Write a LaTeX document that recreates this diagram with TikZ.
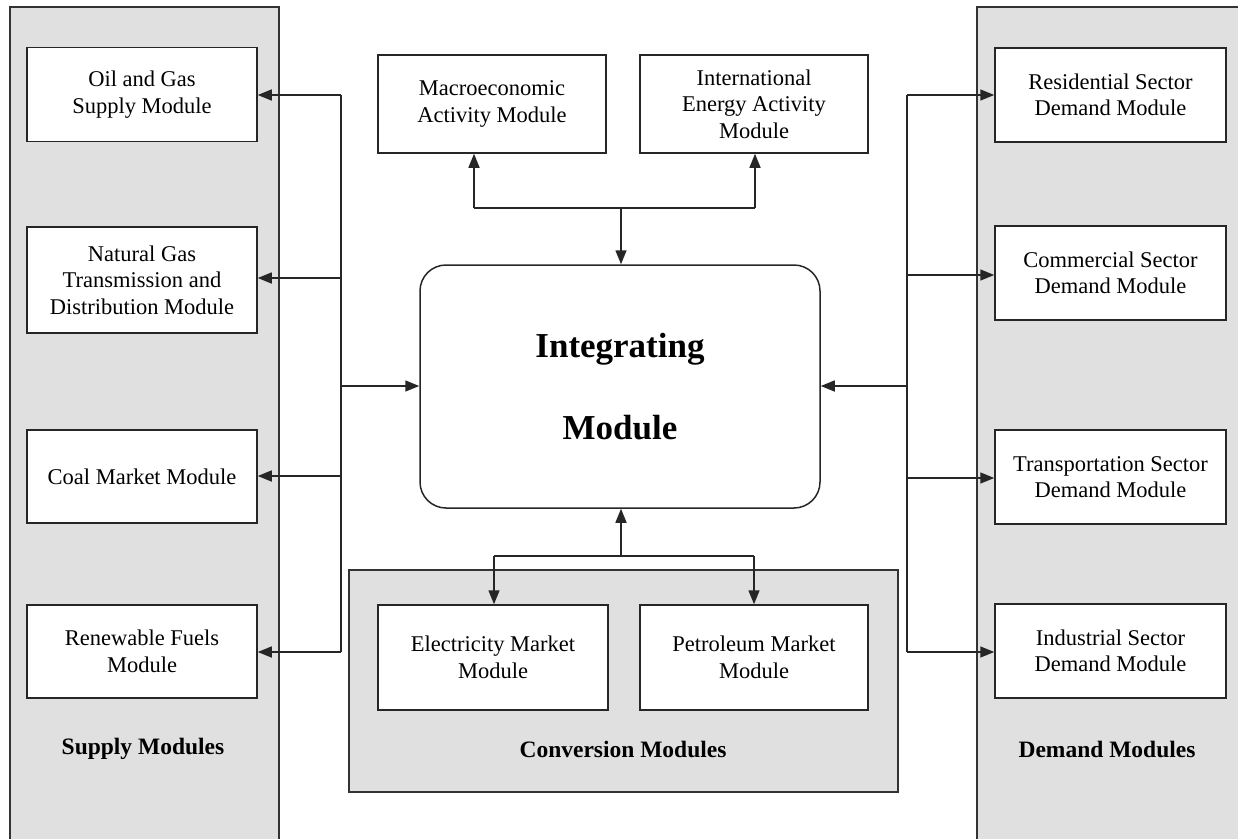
\documentclass[tikz,border=0pt]{standalone}
\usepackage{fontspec}
\setmainfont{Liberation Serif}
\usetikzlibrary{arrows.meta}
\begin{document}
\begin{tikzpicture}[x=1pt,y=-1pt,
  panel/.style={draw=black!80, fill=black!12, line width=1.5pt},
  mbox/.style={draw=black!85, fill=white, line width=1.5pt, inner sep=0pt, align=center,
    font=\fontsize{22.5}{26.5}\selectfont, minimum width=230pt},
  lbl/.style={font=\bfseries\fontsize{23.5}{27}\selectfont},
  conn/.style={draw=black!85, line width=1.5pt},
  arr/.style={conn, -{Triangle[length=14pt,width=11pt]}},
]
\useasboundingbox (0,0) rectangle (1238,838);
\clip (0,0) rectangle (1238,838);
% panels
\draw[panel] (10,7) rectangle (279,850);
\draw[panel] (977,7) rectangle (1250,850);
\draw[panel] (349,570) rectangle (898,792);
% supply boxes
\node[mbox, minimum height=94pt] (oil) at (142,94.5) {Oil and Gas\\Supply Module};
\node[mbox, minimum height=106pt] (ngas) at (142,280) {Natural Gas\\Transmission and\\Distribution Module};
\node[mbox, minimum height=93pt] (coal) at (142,476.5) {Coal Market Module};
\node[mbox, minimum height=93pt] (renew) at (142,651.5) {Renewable Fuels\\Module};
% demand boxes
\node[mbox, minimum width=231pt, minimum height=94pt] (res) at (1110.5,95) {Residential Sector\\Demand Module};
\node[mbox, minimum width=231pt, minimum height=94pt] (com) at (1110.5,273) {Commercial Sector\\Demand Module};
\node[mbox, minimum width=231pt, minimum height=94pt] (trans) at (1110.5,477) {Transportation Sector\\Demand Module};
\node[mbox, minimum width=231pt, minimum height=94pt] (ind) at (1110.5,651) {Industrial Sector\\Demand Module};
% top boxes
\node[mbox, minimum width=228pt, minimum height=98pt] (macro) at (492,104) {Macroeconomic\\Activity Module};
\node[mbox, minimum width=228pt, minimum height=98pt] (intl) at (754,104) {International\\Energy Activity\\Module};
% conversion boxes
\node[mbox, minimum width=230pt, minimum height=105pt] (elec) at (493,657.5) {Electricity Market\\Module};
\node[mbox, minimum width=228pt, minimum height=105pt] (petro) at (754,657.5) {Petroleum Market\\Module};
% integrating
\node[draw=black!85, fill=white, line width=1.5pt, rounded corners=26pt, minimum width=400pt,
  minimum height=243pt, align=center, font=\bfseries\fontsize{35}{82}\selectfont] (integ) at (620,386.5)
  {Integrating\\Module};
% labels
\node[lbl] (lsup) at (143,749) {Supply Modules};
\node[lbl] (lcon) at (623,749) {Conversion Modules};
\node[lbl] (ldem) at (1107,749) {Demand Modules};
% left bus
\coordinate (lb1) at (341,95);
\coordinate (lb2) at (341,278);
\coordinate (lb3) at (341,476);
\coordinate (lb4) at (341,652);
\coordinate (lbm) at (341,386);
\draw[conn] (lb1) -- (lb4);
\draw[arr] (lb1) -- (lb1 -| oil.east);
\draw[arr] (lb2) -- (lb2 -| ngas.east);
\draw[arr] (lb3) -- (lb3 -| coal.east);
\draw[arr] (lb4) -- (lb4 -| renew.east);
\draw[arr] (lbm) -- (lbm -| integ.west);
% right bus
\coordinate (rb1) at (907,95);
\coordinate (rb2) at (907,275);
\coordinate (rb3) at (907,478);
\coordinate (rb4) at (907,652);
\coordinate (rbm) at (907,386);
\draw[conn] (rb1) -- (rb4);
\draw[arr] (rb1) -- (rb1 -| res.west);
\draw[arr] (rb2) -- (rb2 -| com.west);
\draw[arr] (rb3) -- (rb3 -| trans.west);
\draw[arr] (rb4) -- (rb4 -| ind.west);
\draw[arr] (rbm) -- (rbm -| integ.east);
% top connectors
\coordinate (mt) at (474,208);
\coordinate (tb) at (621,208);
\coordinate (it) at (755,208);
\draw[conn] (mt) -- (it);
\draw[arr] (mt) -- (mt |- macro.south);
\draw[arr] (it) -- (it |- intl.south);
\draw[arr] (tb) -- (tb |- integ.north);
% bottom connectors
\coordinate (el) at (494,556);
\coordinate (cb) at (621,556);
\coordinate (pt) at (754,556);
\draw[conn] (el) -- (pt);
\draw[arr] (cb) -- (cb |- integ.south);
\draw[arr] (el) -- (el |- elec.north);
\draw[arr] (pt) -- (pt |- petro.north);
\end{tikzpicture}
\end{document}
